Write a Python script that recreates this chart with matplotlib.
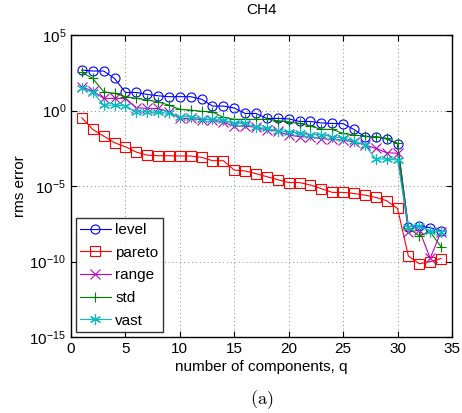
import matplotlib
matplotlib.use("Agg")
import matplotlib.pyplot as plt
import numpy as np

plt.rcParams['font.family'] = ['Liberation Sans', 'DejaVu Sans']

# number of components
q = np.arange(1, 35)

# log10 of rms error
level_log = [2.68, 2.62, 2.62, 2.13, 1.2, 1.2, 1.07, 0.98, 0.92, 0.92, 0.92, 0.75,
             0.30, 0.30, 0.17, -0.19, -0.19, -0.52, -0.52, -0.55, -0.72, -0.72, -0.82,
             -0.85, -0.87, -1.25, -1.73, -1.73, -1.88, -2.2, -7.69, -7.63, -7.76, -7.96]
pareto_log = [-0.48, -1.25, -1.69, -2.13, -2.4, -2.75, -2.95, -2.99, -2.99, -3.01, -3.01, -3.1,
              -3.32, -3.32, -3.94, -4.0, -4.18, -4.38, -4.58, -4.77, -4.77, -4.93, -5.17,
              -5.42, -5.42, -5.49, -5.6, -5.75, -5.97, -6.48, -9.64, -10.15, -10.0, -9.8]
range_log = [1.54, 1.31, 0.81, 0.81, 0.81, 0.19, 0.14, 0.14, -0.08, -0.52, -0.52, -0.6,
             -0.6, -0.78, -1.03, -1.03, -1.11, -1.29, -1.36, -1.62, -1.73, -1.75, -1.86,
             -1.91, -1.95, -2.07, -2.28, -2.5, -2.79, -2.83, -8.07, -7.91, -9.79, -8.03]
std_log = [2.53, 2.13, 1.25, 1.14, 0.92, 0.81, 0.7, 0.58, 0.36, 0.08, 0.03, -0.05,
           -0.08, -0.45, -0.58, -0.58, -0.58, -0.58, -0.67, -0.74, -0.85, -1.03, -1.24,
           -1.25, -1.51, -1.62, -1.69, -1.73, -1.84, -2.17, -7.8, -8.29, -8.03, -9.02]
vast_log = [1.47, 1.2, 0.36, 0.36, 0.32, -0.08, -0.08, -0.12, -0.19, -0.41, -0.4, -0.55,
            -0.58, -0.63, -0.85, -0.85, -1.11, -1.18, -1.34, -1.4, -1.51, -1.6, -1.6,
            -1.73, -1.84, -2.0, -2.28, -3.21, -3.21, -3.28, -7.69, -7.63, -7.96, -8.03]

series = [
    ("level", level_log, "#0000ff", "o"),
    ("pareto", pareto_log, "#ff0000", "s"),
    ("range", range_log, "#bf00bf", "x"),
    ("std", std_log, "#008000", "+"),
    ("vast", vast_log, "#00bfbf", "*"),
]

fig = plt.figure(figsize=(4.62, 4.13), dpi=100)
ax = fig.add_axes([0.1537, 0.184, 0.8245, 0.731])

for name, vals, col, mk in series:
    y = 10.0 ** np.array(vals)
    if mk in ("o", "s"):
        ax.semilogy(q, y, color=col, marker=mk, markersize=6.5, markerfacecolor="none",
                    markeredgecolor=col, markeredgewidth=0.8, lw=0.8, label=name)
    elif mk == "*":
        ax.semilogy(q, y, color=col, marker=(6, 2, 0), markersize=8,
                    markeredgewidth=0.8, lw=0.8, label=name)
    else:
        ax.semilogy(q, y, color=col, marker=mk, markersize=7,
                    markeredgewidth=0.8, lw=0.8, label=name)

ax.set_xlim(0, 35)
ax.set_ylim(1e-15, 1e5)
ax.set_xticks(np.arange(0, 36, 5))
ax.set_yticks([1e-15, 1e-10, 1e-5, 1e0, 1e5])
ax.yaxis.set_minor_locator(matplotlib.ticker.NullLocator())
ax.grid(True, which="major", linestyle=(0, (1, 3)), color="#888888", linewidth=0.7)
ax.tick_params(direction="in", top=True, right=True, labelsize=11, length=4)
for sp in ax.spines.values():
    sp.set_linewidth(1.0)

ax.set_title("CH4", fontsize=11, pad=15)
ax.set_xlabel("number of components, q", fontsize=11, labelpad=3)
ax.set_ylabel("rms error", fontsize=11, labelpad=2)

leg = ax.legend(loc="lower left", fontsize=11, frameon=True, fancybox=False,
                edgecolor="black", handlelength=2.0, handletextpad=0.3,
                borderaxespad=0.3, labelspacing=0.57, borderpad=0.3)
leg.get_frame().set_linewidth(1.0)

fig.text(0.567, 0.005, r"$\mathrm{(a)}$", ha="center", va="bottom", fontsize=13,
         math_fontfamily="cm")

fig.savefig("out.png", dpi=100)
